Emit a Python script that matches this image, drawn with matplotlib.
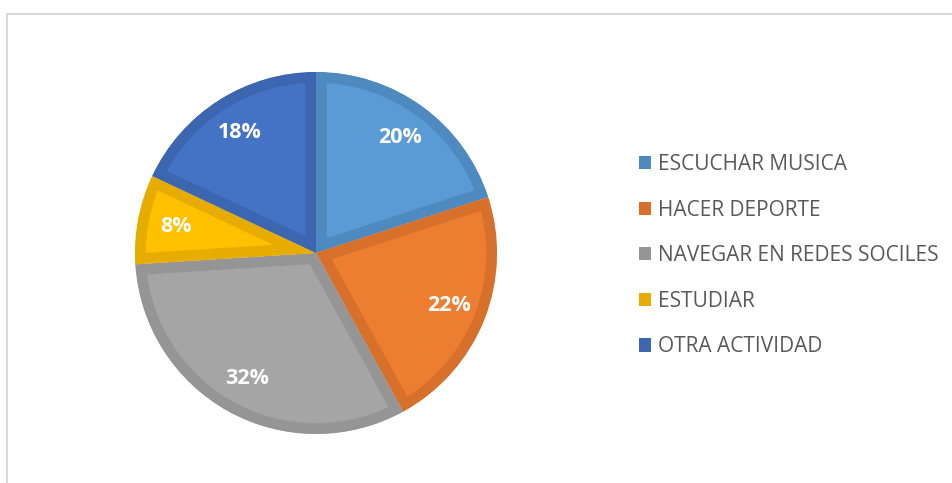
import matplotlib
matplotlib.use("Agg")
import matplotlib.pyplot as plt
from matplotlib.patches import Patch
from matplotlib.lines import Line2D

categories = ["ESCUCHAR MUSICA", "HACER DEPORTE", "NAVEGAR EN REDES SOCILES", "ESTUDIAR", "OTRA ACTIVIDAD"]
values = [20, 22, 32, 8, 18]
fill_colors = ["#5B9BD5", "#ED7D31", "#A5A5A5", "#FFC000", "#4472C4"]
edge_colors = ["#4E89C0", "#D6702B", "#959595", "#E6AC00", "#3D66B1"]

W, H = 953, 483
fig = plt.figure(figsize=(W / 100, H / 100), dpi=100)
fig.patch.set_facecolor("white")

cx, cy, r = 316, 253, 181
ax = fig.add_axes([(cx - r) / W, (H - cy - r) / H, 2 * r / W, 2 * r / H])
ax.axis("off")

wedges, texts = ax.pie(values, colors=fill_colors, startangle=90, counterclock=False,
                       labels=[f"{v}%" for v in values], labeldistance=0.79,
                       radius=1.0, wedgeprops=dict(linewidth=0))
ax.set_xlim(-1, 1)
ax.set_ylim(-1, 1)
ax.set_aspect("equal")
for w, ec in zip(wedges, edge_colors):
    w.set_edgecolor(ec)
    w.set_linewidth(15.5)
    w.set_clip_on(True)
    w.set_clip_path(w.get_path(), w.get_transform())
for t in texts:
    t.set_ha("center")
    t.set_va("center")
    t.set_color("white")
    t.set_fontweight("bold")
    t.set_fontsize(15.5)
    t.set_fontfamily(["Open Sans", "DejaVu Sans"])

handles = [Patch(facecolor=c, edgecolor="none") for c in edge_colors]
leg = fig.legend(handles, categories, loc="upper left",
                 bbox_to_anchor=(639 / W, 1 - 154 / H), frameon=False,
                 prop=dict(family=["Open Sans", "DejaVu Sans"], size=15),
                 labelcolor="#595959", handlelength=0.6, handleheight=0.6,
                 handletextpad=0.3, labelspacing=1.18, borderpad=0, borderaxespad=0)

# chart area frame (top and left edges visible)
fig.add_artist(Line2D([6.5 / W, 1], [1 - 13.5 / H, 1 - 13.5 / H], color="#D9D9D9", lw=1.5, transform=fig.transFigure))
fig.add_artist(Line2D([6.5 / W, 6.5 / W], [0, 1 - 13.5 / H], color="#D9D9D9", lw=1.5, transform=fig.transFigure))

fig.savefig("out.png", dpi=100, facecolor="white")
